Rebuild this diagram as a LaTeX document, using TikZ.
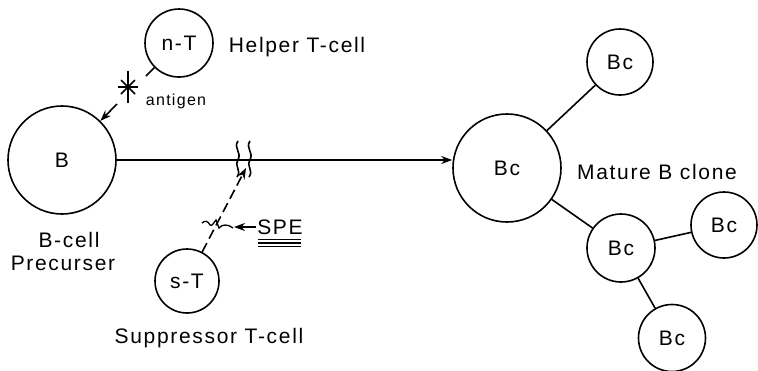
\documentclass[tikz,border=0pt]{standalone}
\usepackage{fontspec}
\setmainfont{Liberation Sans}
\usetikzlibrary{arrows.meta}
\begin{document}
\begin{tikzpicture}[x=1pt,y=-1pt,line width=1.6pt,
  cell/.style={circle,draw,inner sep=0pt,font=\fontsize{21}{23}\selectfont\addfontfeature{LetterSpace=8}},
  lbl/.style={inner sep=0pt,anchor=base,font=\fontsize{21}{23}\selectfont\addfontfeature{LetterSpace=8}},
  small/.style={inner sep=0pt,anchor=base,font=\fontsize{16}{18}\selectfont\addfontfeature{LetterSpace=8}},
  arr/.style={-{Stealth[length=11pt,width=8pt]}},
  dsh/.style={dash pattern=on 10pt off 5pt}]
\useasboundingbox (0,0) rectangle (758,370);
% cells
\node[cell,minimum size=68pt] (nT) at (179,43) {n-T};
\node[cell,minimum size=108pt] (B) at (62,160) {B};
\node[cell,minimum size=64pt] (sT) at (187,281) {s-T};
\node[cell,minimum size=108pt] (Bc0) at (507,168) {Bc};
\node[cell,minimum size=66pt] (Bc1) at (620,62) {Bc};
\node[cell,minimum size=68pt] (Bc2) at (621,248) {Bc};
\node[cell,minimum size=66pt] (Bc3) at (724,225) {Bc};
\node[cell,minimum size=67pt] (Bc4) at (672,338) {Bc};
% labels
\node[lbl] (hl) at (297,52) {Helper T-cell};
\node[small] (ag) at (176,105) {antigen};
\node[lbl] (bl1) at (69,247) {B-cell};
\node[lbl] (bl2) at (63,270) {Precurser};
\node[lbl] (sl) at (209,343) {Suppressor T-cell};
\node[lbl] (ml) at (657,179) {Mature B clone};
\node[lbl] (spe) at (280,234) {SPE};
% helper -> B with antigen star
\coordinate (a1) at (146,76);
\coordinate (a2) at (117,104);
\coordinate (st) at (128,87);
\draw (nT) -- (a1);
\draw (st) ++(0,-16) -- ++(0,32);
\draw (st) ++(-10,0) -- ++(20,0);
\draw (st) ++(-7,-7) -- ++(14,14);
\draw (st) ++(-7,7) -- ++(14,-14);
\draw[arr] (a2) -- (B);
% B -> mature clone
\draw[arr] (B.east) -- (B.east -| Bc0.west);
% wavy blocks
\draw (238,141) .. controls (233,148) and (242,152) .. (238,160) .. controls (234,167) and (242,170) .. (237,177);
\draw (250,141) .. controls (245,148) and (254,152) .. (250,160) .. controls (246,167) and (254,170) .. (249,177);
% suppressor
\coordinate (tip) at (246,168);
\draw[arr,dsh] (sT) -- (tip);
\draw[line width=1.3pt] (202,223) .. controls (205,220) and (208,221) .. (210,225) .. controls (212,227) and (214,222) .. (216,220) -- (219,228) .. controls (222,224) and (228,224) .. (233,228);
\coordinate (sa) at (256,227);
\coordinate (sb) at (234,227);
\draw[arr] (sa) -- (sb);
\draw (258,239.5) -- (301,239.5);
\draw (258,243) -- (301,243);
\draw (258,246.5) -- (301,246.5);
% clone links
\draw (Bc0) -- (Bc1);
\draw (Bc0) -- (Bc2);
\draw (Bc2) -- (Bc3);
\draw (Bc2) -- (Bc4);
\end{tikzpicture}
\end{document}
